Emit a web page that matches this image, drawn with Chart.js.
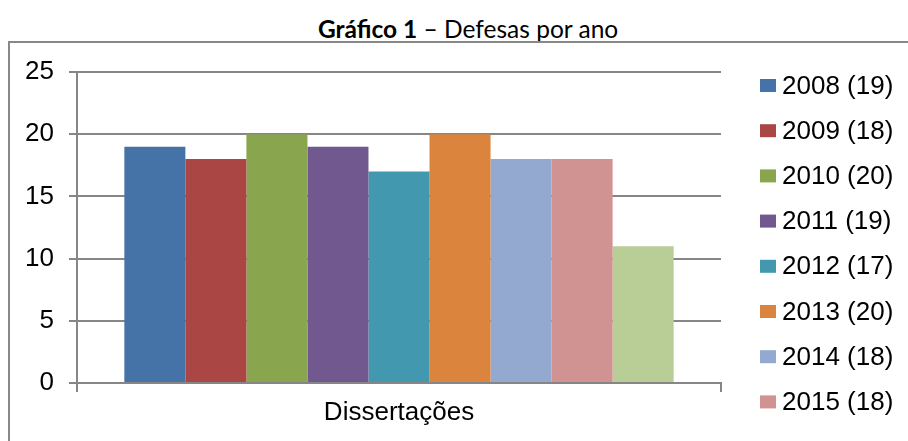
<!DOCTYPE html>
<html>
<head>
<meta charset="utf-8">
<script src="https://cdn.jsdelivr.net/npm/chart.js@4/dist/chart.umd.min.js"></script>
<style>
  html,body{margin:0;padding:0;background:#fff;width:908px;height:441px;overflow:hidden;}
  #title{position:absolute;left:318px;top:17px;font-family:Lato,"Open Sans",sans-serif;font-size:24.5px;line-height:1;color:#000;white-space:nowrap;}
  #frame{position:absolute;left:8px;top:41px;width:940px;height:460px;border:2px solid #888;box-sizing:border-box;}
  #wrap{position:absolute;left:0;top:0;width:908px;height:441px;}
</style>
</head>
<body>
<div id="title"><b>Gráfico 1</b> – Defesas por ano</div>
<div id="frame"></div>
<div id="wrap"><canvas id="c" width="908" height="441"></canvas></div>
<script>
const categories = ['Dissertações'];
const years = ['2008','2009','2010','2011','2012','2013','2014','2015','2016'];
const values = [19, 18, 20, 19, 17, 20, 18, 18, 11];
const colors = ['#4572A7','#AA4643','#89A54E','#71588F','#4198AF','#DB843D','#93A9CF','#D19392','#B9CD96'];
const yTicks = [0, 5, 10, 15, 20, 25];

const datasets = years.map((y, i) => ({
  label: y + ' (' + values[i] + ')',
  data: [values[i]],
  backgroundColor: colors[i],
  borderWidth: 0,
  categoryPercentage: 0.853,
  barPercentage: 1.0
}));

const customLegend = {
  id: 'customLegend',
  afterDraw(chart) {
    const ctx = chart.ctx;
    ctx.save();
    ctx.beginPath();
    ctx.rect(740, 50, 168, 378);
    ctx.clip();
    ctx.font = '26px "Liberation Sans", Arial, sans-serif';
    ctx.textBaseline = 'middle';
    ctx.textAlign = 'left';
    const x0 = 760, y0 = 85.5, step = 45.2;
    chart.data.datasets.forEach((ds, i) => {
      const y = y0 + i * step;
      ctx.fillStyle = ds.backgroundColor;
      ctx.fillRect(x0, y - 6.5, 16, 13);
      ctx.fillStyle = '#000';
      ctx.fillText(ds.label, x0 + 22, y + 1);
    });
    ctx.restore();
  }
};

new Chart(document.getElementById('c'), {
  type: 'bar',
  data: { labels: categories, datasets },
  options: {
    responsive: false,
    animation: false,
    devicePixelRatio: 1,
    layout: { padding: { left: 0, top: 72, right: 187, bottom: 0 } },
    plugins: { legend: { display: false }, tooltip: { enabled: false }, title: { display: false } },
    scales: {
      x: {
        offset: true,
        grid: { display: true, drawOnChartArea: false, drawTicks: true, tickLength: 9, color: '#868686', lineWidth: 2, offset: true },
        border: { display: true, color: '#868686', width: 2 },
        ticks: { color: '#000', font: { family: '"Liberation Sans", Arial, sans-serif', size: 26 }, padding: 5 },
        afterFit(scale) { scale.height = 58; }
      },
      y: {
        min: 0, max: 25,
        afterBuildTicks(scale) { scale.ticks = yTicks.map(v => ({ value: v })); },
        grid: { color: '#868686', lineWidth: 2, drawTicks: true, tickLength: 8 },
        border: { display: true, color: '#868686', width: 2 },
        ticks: { color: '#000', font: { family: '"Liberation Sans", Arial, sans-serif', size: 26 }, padding: 15 },
        afterFit(scale) { scale.width = 77; }
      }
    }
  },
  plugins: [customLegend]
});
</script>
</body>
</html>
